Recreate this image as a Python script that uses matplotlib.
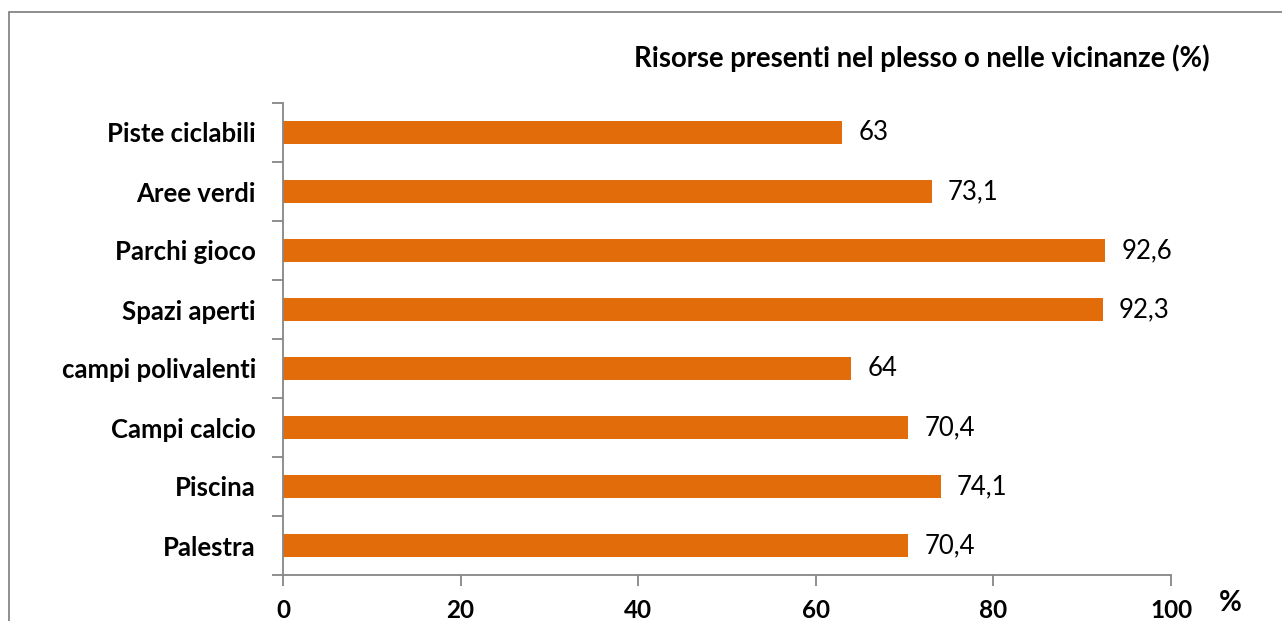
import matplotlib.pyplot as plt
from matplotlib.patches import Rectangle

categories = ["Palestra", "Piscina", "Campi calcio", "campi polivalenti",
              "Spazi aperti", "Parchi gioco", "Aree verdi", "Piste ciclabili"]
values = [70.4, 74.1, 70.4, 64, 92.3, 92.6, 73.1, 63]
value_labels = ["70,4", "74,1", "70,4", "64", "92,3", "92,6", "73,1", "63"]
xticks = [0, 20, 40, 60, 80, 100]

plt.rcParams['font.family'] = ['Lato', 'DejaVu Sans']

W, H = 1282, 621
fig = plt.figure(figsize=(W / 100, H / 100), dpi=100)
ax = fig.add_axes([283 / W, 1 - 575 / H, (1171 - 283) / W, (575 - 103) / H])

orange = "#E36C0A"
grey = "#868686"

pos = list(range(len(categories)))
ax.barh(pos, values, height=0.4, color=orange, zorder=2)
for p, v, lab in zip(pos, values, value_labels):
    ax.text(v + 1.8, p, lab, va="center", ha="left", fontsize=18.5, color="black")

ax.set_xlim(0, 100)
ax.set_ylim(-0.5, len(categories) - 0.5)
ax.set_xticks(xticks)
ax.set_xticklabels([str(t) for t in xticks], fontsize=17.5, fontweight="bold")
ax.set_yticks(pos)
ax.set_yticklabels(categories, fontsize=18.5, fontweight="bold")
ax.set_yticks([p - 0.5 for p in range(len(categories) + 1)], minor=True)
ax.tick_params(axis="y", which="major", length=0, pad=19.5)
ax.tick_params(axis="y", which="minor", length=8, color=grey, width=1.3)
ax.tick_params(axis="x", length=8, color=grey, width=1.3, pad=9)

for s in ["top", "right"]:
    ax.spines[s].set_visible(False)
for s in ["left", "bottom"]:
    ax.spines[s].set_color(grey)
    ax.spines[s].set_linewidth(1.3)

fig.text(1219 / W, 1 - 603 / H, "%", fontsize=20, fontweight="bold", ha="left", va="center")
fig.text(1210 / W, 1 - 58 / H, "Risorse presenti nel plesso o nelle vicinanze (%)",
         fontsize=19.8, fontweight="bold", ha="right", va="center")

# outer chart border
fig.patches.append(Rectangle((9 / W, -0.05), 1.2, 1 - 12 / H + 0.05, transform=fig.transFigure,
                             fill=False, edgecolor=grey, linewidth=1.3))

fig.savefig("out.png", dpi=100)
